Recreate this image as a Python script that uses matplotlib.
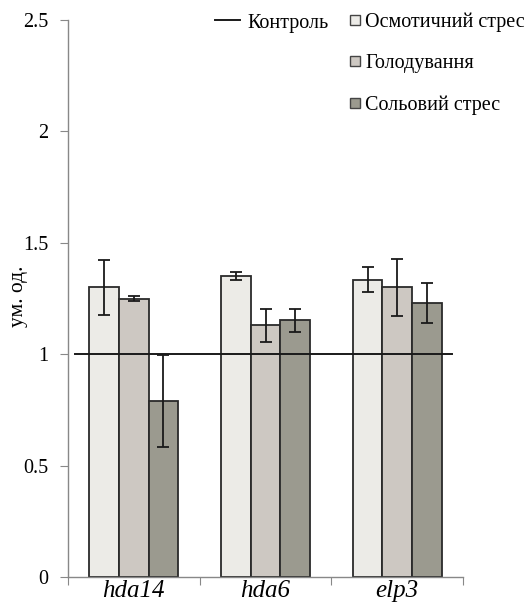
import matplotlib
matplotlib.use("Agg")
import matplotlib.pyplot as plt
import numpy as np
from matplotlib.lines import Line2D

genes = ["hda14", "hda6", "elp3"]
series_names = ["Осмотичний стрес", "Голодування", "Сольовий стрес"]
osm = [1.30, 1.35, 1.335]
osm_err = [0.125, 0.018, 0.058]
hunger = [1.25, 1.13, 1.30]
hunger_err = [0.01, 0.075, 0.128]
salt = [0.79, 1.152, 1.228]
salt_err = [0.205, 0.052, 0.09]
control_level = 1.0
yticks = [0, 0.5, 1, 1.5, 2, 2.5]
ytick_labels = ["0", "0.5", "1", "1.5", "2", "2.5"]

colors = ["#ecebe7", "#cdc8c2", "#9b9a8f"]
edge = "#2a2a2a"

plt.rcParams['font.family'] = ['Liberation Serif', 'DejaVu Serif']

W, H = 531, 609
fig = plt.figure(figsize=(W/100, H/100), dpi=100)
ax = fig.add_axes([68/W, 1-577/H, (463-68)/W, (577-20)/H])

x = np.arange(len(genes))
w = 0.225
vals = [osm, hunger, salt]
errs = [osm_err, hunger_err, salt_err]
for i, (v, e) in enumerate(zip(vals, errs)):
    ax.bar(x + (i-1)*w, v, w, color=colors[i], edgecolor=edge, linewidth=1.3,
           yerr=e, capsize=4, error_kw=dict(ecolor="#1a1a1a", elinewidth=1.3, capthick=1.3),
           zorder=2)

ax.plot([-0.447, 2.42], [control_level, control_level], color="#1a1a1a", lw=1.4, zorder=3)

ax.set_xlim(-0.5, 2.5)
ax.set_ylim(0, 2.5)
ax.set_yticks(yticks)
ax.set_yticklabels(ytick_labels, fontsize=14.5)
ax.set_xticks([-0.5, 0.5, 1.5, 2.5])
ax.set_xticklabels([])
ax.set_xticks(x, minor=True)
ax.set_xticklabels(genes, minor=True, fontsize=18, style='italic')
ax.tick_params(axis='x', which='minor', length=0, pad=2)
ax.tick_params(axis='x', which='major', length=6, color="#888888", direction='out')
ax.tick_params(axis='y', length=6, color="#888888", direction='out', pad=8)
for s in ['top', 'right']:
    ax.spines[s].set_visible(False)
for s in ['left', 'bottom']:
    ax.spines[s].set_color("#888888")
    ax.spines[s].set_linewidth(1.0)

ax.set_ylabel("ум. од.", fontsize=15.5)
ax.yaxis.set_label_coords(28/W, 1-296/H, transform=fig.transFigure)

# legend: control line
h_ctrl = [Line2D([0], [0], color="#1a1a1a", lw=1.4)]
leg1 = fig.legend(h_ctrl, ["Контроль"], loc='center left',
                  bbox_to_anchor=(215/W, 1-23/H), frameon=False, fontsize=14.5,
                  handlelength=1.25, handletextpad=0.35, borderpad=0, borderaxespad=0)
# legend: series
h_ser = [Line2D([0], [0], linestyle='none', marker='s', markersize=7,
                markerfacecolor=c, markeredgecolor="#444444", markeredgewidth=1.0)
         for c in colors]
leg2 = fig.legend(h_ser, series_names, loc='upper left',
                  bbox_to_anchor=(350/W, 1-13/H), frameon=False, fontsize=14.5,
                  handlelength=0.5, handletextpad=0.25, labelspacing=1.08,
                  borderpad=0, borderaxespad=0)

fig.savefig("out.png", dpi=100)
